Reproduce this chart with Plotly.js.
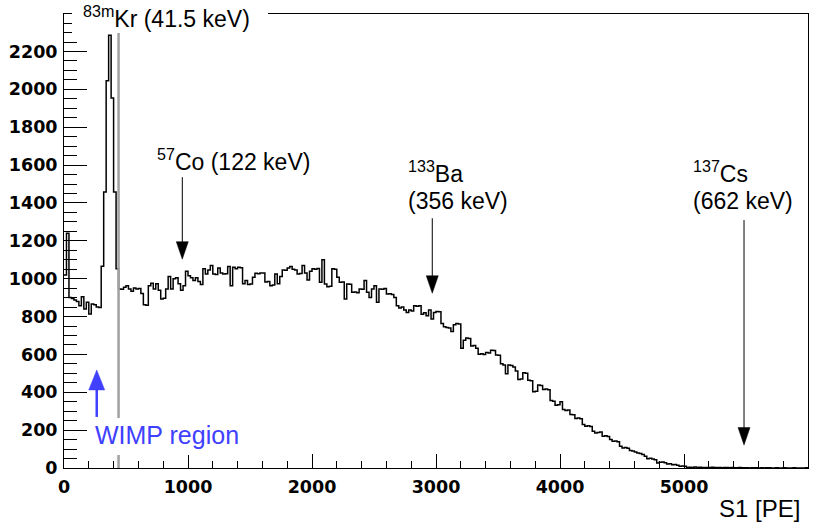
<!DOCTYPE html>
<html><head><meta charset="utf-8">
<script src="https://cdn.plot.ly/plotly-3.0.1.min.js"></script>
<style>html,body{margin:0;padding:0;background:#fff}#chart{width:829px;height:527px}</style>
</head><body><div id="chart"></div>
<script>
// ---- data ----
const binWidth = 20;           // PE per bin, histogram starts at 0
const counts = [
  1020,1240,900,895,887,880,857,905,840,875,813,866,862,850,
  848,1066,1458,2046,2286,1954,1458,1052,
  946,944,955,963,946,933,951,946,948,922,862,860,963,976,946,973,939,893,896,946,1011,946,999,1005,973,939,963,1039,
  1016,1005,990,1005,985,969,1052,1025,1046,1069,1025,1022,1057,1030,1025,1026,1064,963,1060,1052,
  1060,1058,973,990,969,972,1008,1028,1026,1030,1030,982,985,963,966,1025,973,1011,1046,1044,
  1057,1064,1050,1046,1025,1027,1069,1030,993,1039,1052,1050,1054,981,1100,972,958,960,1052,1050,
  1007,981,983,893,972,970,928,930,926,946,944,990,928,901,946,963,875,946,944,948,
  919,921,917,901,857,845,850,834,822,834,829,857,855,857,812,820,804,834,787,822,
  827,825,763,746,742,739,721,756,763,760,633,675,686,684,645,647,633,601,603,599,
  610,608,622,620,597,595,551,544,498,544,542,534,512,468,470,503,501,463,461,403,
  405,438,436,415,417,413,357,353,332,334,350,309,304,306,283,281,262,264,260,230,
  221,223,219,194,185,187,190,168,170,166,150,141,143,139,115,106,108,104,92,90,
  84,79,77,71,62,49,51,47,44,26,30,32,28,21,23,17,19,15,9,11,
  9,3,4,3,5,3,4,2,3,2,3,4,2,2,3,1,2,2,1,2,
  1,1,2,1,1,1,0,1,1,1,0,1,0,1,1,0,0,1,0,0,
  1,0,0,0,1,0,0,0,0,1
];
const wimpThreshold = 440;                 // PE, grey line
const lineLabels = ['<sup>57</sup>Co (122 keV)', '<sup>133</sup>Ba', '<sup>137</sup>Cs'];
const lineEnergies = ['', '(356 keV)', '(662 keV)'];
const arrowX = [954, 2970, 5484];          // PE
const arrowTipY = [1103, 923, 121];        // counts
const wimpArrowX = 264, wimpArrowTipY = 518;
const yTickVals = [0,200,400,600,800,1000,1200,1400,1600,1800,2000,2200];

// ---- build step line ----
const xs = [], ys = [];
for (let i = 0; i < counts.length; i++) { xs.push(i * binWidth); ys.push(counts[i]); }
xs.push(counts.length * binWidth); ys.push(counts[counts.length - 1]);

// ---- layout helpers (pixel -> paper) ----
const L = 64, R = 808, T = 14, B = 468;
const px2x = p => (p - L) / (R - L);
const py2y = p => (B - p) / (B - T);

const txtFont = {family: 'Liberation Sans, Arial, sans-serif', size: 23, color: '#000'};
const blue = 'rgb(64,64,255)';

const shapes = [
  {type: 'line', xref: 'x', yref: 'paper', x0: wimpThreshold, x1: wimpThreshold, y0: 0, y1: 1,
   line: {color: 'rgb(160,160,160)', width: 2.5}, layer: 'above'},
  {type: 'rect', xref: 'paper', yref: 'paper', x0: px2x(72), x1: px2x(268), y0: py2y(33), y1: py2y(-5),
   fillcolor: '#fff', line: {width: 0}, layer: 'above'},
  {type: 'rect', xref: 'paper', yref: 'paper', x0: px2x(92), x1: px2x(243), y0: py2y(455), y1: py2y(418),
   fillcolor: '#fff', line: {width: 0}, layer: 'above'}
];
const shaftLen = [82, 75, 225];
for (let i = 0; i < arrowX.length; i++) {
  shapes.push({type: 'path', xref: 'x', yref: 'y', xsizemode: 'pixel', ysizemode: 'pixel',
    xanchor: arrowX[i], yanchor: arrowTipY[i], path: 'M0,10 L0,' + shaftLen[i],
    line: {color: '#000', width: 1}, layer: 'above'});
  shapes.push({type: 'path', xref: 'x', yref: 'y', xsizemode: 'pixel', ysizemode: 'pixel',
    xanchor: arrowX[i], yanchor: arrowTipY[i], path: 'M0,0 L-6,17.5 L6,17.5 Z',
    fillcolor: '#000', line: {color: '#000', width: 0.5}, layer: 'above'});
}
shapes.push({type: 'path', xref: 'x', yref: 'y', xsizemode: 'pixel', ysizemode: 'pixel',
  xanchor: wimpArrowX, yanchor: wimpArrowTipY, path: 'M0,-15 L0,-47',
  line: {color: blue, width: 2.5}, layer: 'above'});
shapes.push({type: 'path', xref: 'x', yref: 'y', xsizemode: 'pixel', ysizemode: 'pixel',
  xanchor: wimpArrowX, yanchor: wimpArrowTipY, path: 'M0,0 L-8,-20 L8,-20 Z',
  fillcolor: blue, line: {color: blue, width: 0.5}, layer: 'above'});

const ann = (text, xp, yp, extra) => Object.assign({text, xref: 'paper', yref: 'paper', x: px2x(xp), y: py2y(yp),
  xanchor: 'left', yanchor: 'middle', showarrow: false, font: txtFont, borderpad: 0}, extra || {});
const annotations = [
  ann('<sup>83m</sup>Kr (41.5 keV)', 82, 17),
  ann(lineLabels[0], 156, 160),
  ann(lineLabels[1], 407, 172),
  ann(lineEnergies[1], 407, 201),
  ann(lineLabels[2], 692, 172),
  ann(lineEnergies[2], 692, 201),
  ann('WIMP region', 94, 435, {font: {family: txtFont.family, size: 25, color: blue}}),
  ann('S1 [PE]', 801, 509, {xanchor: 'right', font: {family: txtFont.family, size: 24, color: '#000'}})
];

const tickFont = {family: 'DejaVu Sans, sans-serif', size: 17.5, color: '#000', weight: 'bold'};

Plotly.newPlot('chart', [{
  type: 'scatter', mode: 'lines', x: xs, y: ys,
  line: {shape: 'hv', color: '#000', width: 1.5}, hoverinfo: 'skip'
}], {
  width: 829, height: 527,
  margin: {l: L, r: 829 - R, t: T, b: 527 - B},
  paper_bgcolor: '#fff', plot_bgcolor: '#fff', showlegend: false,
  xaxis: {range: [0, 6000], tickmode: 'linear', tick0: 0, dtick: 1000, ticks: 'inside', ticklen: 14,
    tickwidth: 1, tickcolor: '#000', showline: true, linecolor: '#000', linewidth: 1, mirror: true,
    showgrid: false, zeroline: false, tickfont: tickFont, ticklabelstandoff: 3,
    minor: {tickmode: 'linear', tick0: 0, dtick: 200, ticks: 'inside', ticklen: 7, tickcolor: '#000', tickwidth: 1, showgrid: false}},
  yaxis: {range: [0, 2398], tickmode: 'array', tickvals: yTickVals, ticks: 'inside', ticklen: 23,
    tickwidth: 1, tickcolor: '#000', showline: true, linecolor: '#000', linewidth: 1, mirror: true,
    showgrid: false, zeroline: false, tickfont: tickFont, ticklabelstandoff: 2,
    minor: {tickmode: 'linear', tick0: 0, dtick: 50, ticks: 'inside', ticklen: 13, tickcolor: '#000', tickwidth: 1, showgrid: false}},
  shapes, annotations
}, {staticPlot: true});
</script></body></html>
